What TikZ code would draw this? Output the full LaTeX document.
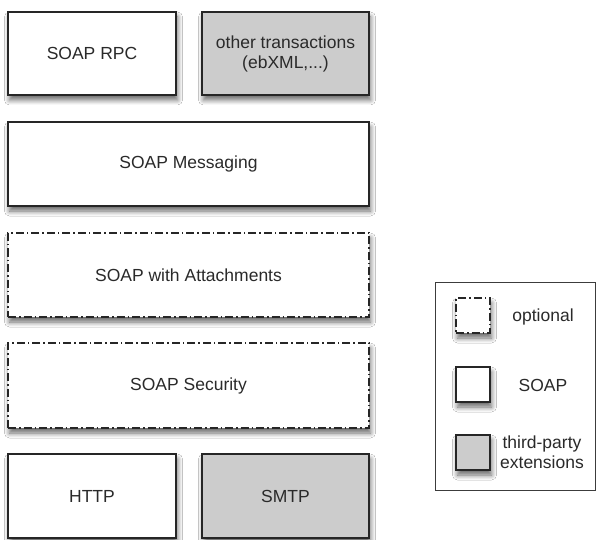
\documentclass[tikz,border=0pt]{standalone}
\usepackage{fontspec}
\setmainfont{Liberation Sans}
\usetikzlibrary{shadows,shadows.blur}
\definecolor{txt}{HTML}{2A2A2A}
\definecolor{edge}{HTML}{262626}
\definecolor{third}{HTML}{CCCCCC}
\tikzset{
  layer/.style={rectangle, draw=edge, line width=1.4pt, fill=white, text=txt,
    align=center, inner sep=0pt,
    font=\fontsize{17.5}{20}\selectfont,
    blur shadow={shadow xshift=1.5pt, shadow yshift=-5pt, shadow blur steps=8, shadow opacity=60, shadow blur radius=5pt}},
  soapbox/.style={layer},
  thirdbox/.style={layer, fill=third},
  optbox/.style={layer, dash pattern=on 8pt off 3pt on 1.5pt off 3pt},
  legicon/.style={minimum width=34pt, minimum height=35pt},
  legtext/.style={text=txt, align=center, inner sep=0pt, font=\fontsize{17.5}{20}\selectfont},
  legframe/.style={draw=edge!90, line width=1pt}
}
\begin{document}
\begin{tikzpicture}[x=1pt, y=-1pt]
\useasboundingbox (0,0) rectangle (597,540);
\fill[white] (0,0) rectangle (597,540);
% stack
\node[soapbox, minimum width=168pt, minimum height=83pt] (rpc) at (92,53.5) {SOAP RPC};
\node[thirdbox, minimum width=167pt, minimum height=83pt] (other) at (285.5,53.5) {other transactions\\(ebXML,...)};
\node[soapbox, minimum width=361pt, minimum height=84pt] (msg) at (188.5,164) {SOAP Messaging};
\node[optbox, minimum width=361pt, minimum height=84pt] (att) at (188.5,275) {SOAP with Attachments};
\node[optbox, minimum width=361pt, minimum height=85pt] (sec) at (188.5,385.5) {SOAP Security};
\node[soapbox, minimum width=168pt, minimum height=84pt] (http) at (92,496) {HTTP};
\node[thirdbox, minimum width=167pt, minimum height=84pt] (smtp) at (285.5,496) {SMTP};
% legend
\draw[legframe] (435,282) rectangle (595,490);
\node[optbox, legicon] (lopt) at (473,315.5) {};
\node[soapbox, legicon] (lsoap) at (473,384.5) {};
\node[thirdbox, legicon] (lthird) at (473,452.5) {};
\node[legtext] (topt) at (543,317) {optional};
\node[legtext] (tsoap) at (543,385) {SOAP};
\node[legtext] (tthird) at (542,452) {third-party\\extensions};
\end{tikzpicture}
\end{document}
